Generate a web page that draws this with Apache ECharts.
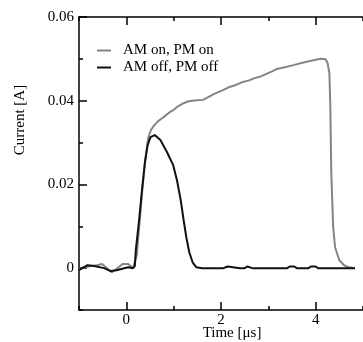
<!DOCTYPE html>
<html><head><meta charset="utf-8">
<script src="https://cdn.jsdelivr.net/npm/echarts@6/dist/echarts.min.js"></script>
<style>html,body{margin:0;padding:0;background:#fff}#c{width:363px;height:342px}</style>
</head><body><div id="c"></div>
<script>
const seriesNames = ['AM on, PM on', 'AM off, PM off'];
const grayT = [-1.0,-0.88,-0.74,-0.62,-0.51,-0.41,-0.31,-0.21,-0.08,0.04,0.14,0.18,0.22,0.28,0.34,0.40,0.46,0.52,0.58,0.66,0.74,0.80,0.92,1.0,1.07,1.21,1.30,1.38,1.50,1.62,1.75,1.89,2.02,2.16,2.30,2.44,2.58,2.71,2.84,2.96,3.08,3.18,3.35,3.53,3.70,3.88,4.0,4.11,4.21,4.25,4.29,4.31,4.33,4.37,4.41,4.50,4.60,4.70,4.83];
const grayI = [-0.0002,0.0002,0.0005,0.0007,0.0010,0.0000,-0.0010,-0.0002,0.0010,0.0010,0.0000,0.0000,0.0030,0.0110,0.0190,0.0260,0.0310,0.0330,0.0340,0.0350,0.0357,0.0362,0.0373,0.0378,0.0385,0.0394,0.0398,0.0400,0.0401,0.0402,0.0410,0.0418,0.0424,0.0432,0.0437,0.0444,0.0448,0.0454,0.0458,0.0464,0.0470,0.0476,0.0480,0.0485,0.0490,0.0495,0.0498,0.0500,0.0499,0.0490,0.0466,0.0385,0.0227,0.0098,0.0050,0.0019,0.0007,0.0002,0.0000];
const blackT = [-1.0,-0.99,-0.82,-0.68,-0.47,-0.33,-0.21,0.04,0.14,0.18,0.20,0.27,0.33,0.39,0.45,0.51,0.60,0.72,0.86,0.99,1.07,1.15,1.21,1.27,1.33,1.40,1.48,1.60,2.05,2.08,2.14,2.17,2.40,2.44,2.50,2.56,2.66,2.70,2.76,2.80,2.90,3.40,3.45,3.55,3.60,3.85,3.90,4.00,4.05,4.83];
const blackI = [-0.0005,-0.0005,0.0007,0.0005,0.0000,-0.0007,-0.0005,0.0002,0.0000,0.0005,0.0043,0.0115,0.0186,0.0250,0.0294,0.0313,0.0318,0.0306,0.0277,0.0246,0.0210,0.0162,0.0115,0.0072,0.0038,0.0014,0.0002,0.0000,0.0000,0.0004,0.0004,0.0000,0.0000,0.0004,0.0000,0.0004,0.0000,0.0004,0.0000,0.0004,0.0000,0.0000,0.0004,0.0004,0.0000,0.0000,0.0004,0.0004,0.0000,0.0000];
const xMajorTicks = [0, 2, 4];
const xMinorTicks = [-1, 1, 3, 5];
const yMajorTicks = [0, 0.02, 0.04, 0.06];
const yMinorTicks = [-0.01, 0.01, 0.03, 0.05];
const xLabel = 'Time [\u03bcs]';
const yLabel = 'Current [A]';

const FONT = 'Liberation Serif';
const zip = (a, b) => a.map((v, i) => [v, b[i]]);
const axisLine = { show: true, onZero: false, lineStyle: { color: '#000', width: 1.5 } };
const noLine = { show: false, onZero: false };
function xAx(pos, ticks, len, showLine, showLabel) {
  return {
    type: 'value', position: pos, min: -1, max: 5, interval: 1,
    axisLine: showLine ? axisLine : noLine,
    axisTick: { show: true, inside: true, length: len, customValues: ticks, lineStyle: { color: '#000', width: 1.5 } },
    axisLabel: showLabel ? { show: true, customValues: ticks, fontFamily: FONT, fontSize: 15, color: '#000', margin: 3 } : { show: false },
    splitLine: { show: false }
  };
}
function yAx(ticks, len, showLine, showLabel) {
  return {
    type: 'value', position: 'left', min: -0.01, max: 0.06, interval: 0.01,
    axisLine: showLine ? axisLine : noLine,
    axisTick: { show: true, inside: true, length: len, customValues: ticks, lineStyle: { color: '#000', width: 1.5 } },
    axisLabel: showLabel ? { show: true, customValues: ticks, fontFamily: FONT, fontSize: 15, color: '#000', margin: 5,
      formatter: v => (Math.abs(v) < 1e-9 ? '0' : v.toFixed(2)) } : { show: false },
    splitLine: { show: false }
  };
}
const chart = echarts.init(document.getElementById('c'), null, { renderer: 'canvas' });
chart.setOption({
  animation: false,
  backgroundColor: '#fff',
  grid: { left: 79, top: 17, bottom: 32, right: -8, containLabel: false },
  xAxis: [
    xAx('bottom', xMajorTicks, 8, true, true),
    xAx('bottom', xMinorTicks, 4, false, false),
    xAx('top', xMajorTicks, 8, true, false),
    xAx('top', xMinorTicks, 4, false, false)
  ],
  yAxis: [
    yAx(yMajorTicks, 8, true, true),
    yAx(yMinorTicks, 4, false, false)
  ],
  legend: {
    data: seriesNames, orient: 'vertical', left: 92, top: 37,
    icon: 'rect', itemWidth: 14, itemHeight: 2, itemGap: 0,
    textStyle: { fontFamily: FONT, fontSize: 15, color: '#000', lineHeight: 17, padding: [0, 0, 0, 7] }
  },
  graphic: [
    { type: 'text', x: 20, y: 120, rotation: Math.PI / 2,
      style: { text: yLabel, font: '15px "Liberation Serif"', fill: '#000', align: 'center', verticalAlign: 'middle' } },
    { type: 'text', x: 232, y: 333,
      style: { text: xLabel, font: '15px "Liberation Serif"', fill: '#000', align: 'center', verticalAlign: 'middle' } }
  ],
  series: [
    { name: seriesNames[0], type: 'line', data: zip(grayT, grayI), symbol: 'none',
      lineStyle: { color: '#858585', width: 2 }, itemStyle: { color: '#858585' } },
    { name: seriesNames[1], type: 'line', data: zip(blackT, blackI), symbol: 'none',
      lineStyle: { color: '#111', width: 2 }, itemStyle: { color: '#111' } }
  ]
});
</script></body></html>
